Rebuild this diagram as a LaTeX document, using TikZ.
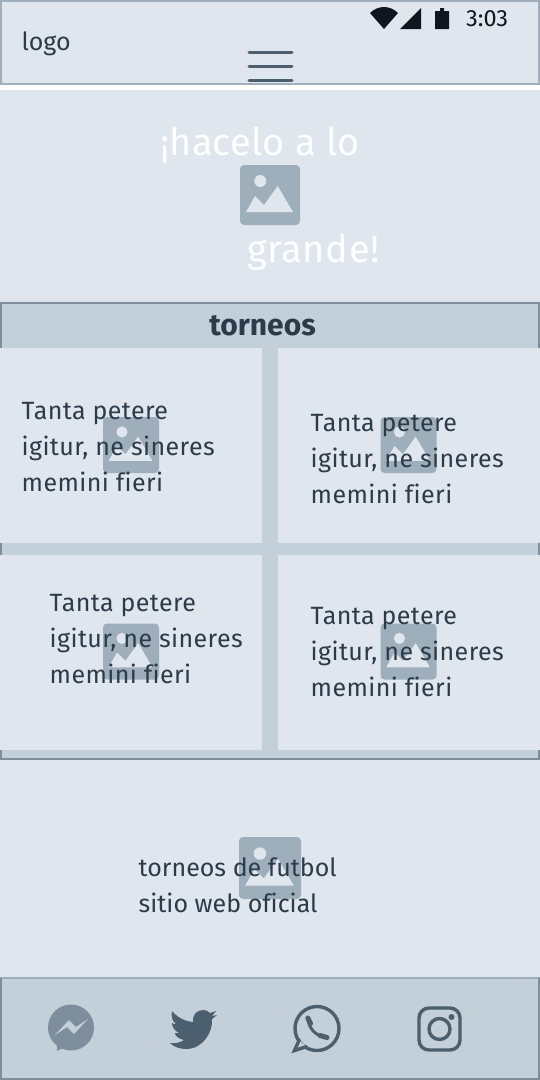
\documentclass[tikz,border=0pt]{standalone}
\usepackage{fontspec}
\setmainfont[Ligatures=NoCommon]{Fira Sans}
\definecolor{panel}{HTML}{DFE6EE}
\definecolor{band}{HTML}{C3CFD9}
\definecolor{edgeA}{HTML}{A0AFBE}
\definecolor{edgeB}{HTML}{7E8E9D}
\definecolor{ink}{HTML}{2C3B4A}
\definecolor{slate}{HTML}{4C5F6F}
\definecolor{ph}{HTML}{9FAEBB}
\definecolor{night}{HTML}{0F161E}
\tikzset{
  x=1pt,y=-1pt,
  body/.style={font=\fontsize{25}{36}\selectfont,text=ink,align=left,anchor=north west,inner sep=0pt},
  cellbody/.style={body,font=\fontsize{25}{36}\selectfont\addfontfeature{LetterSpace=1.6}},
  herotext/.style={font=\fontsize{38}{38}\selectfont,text=white,anchor=base west,inner sep=0pt},
  burger/.style={draw=slate,line width=3pt,line cap=round},
  phframe/.style={fill=ph,rounded corners=4pt},
  iconline/.style={draw=slate,line width=3.4pt},
  phonepart/.style={draw=slate,line width=5pt,line cap=round},
}
\newcommand{\imgph}[4]{% name, left, top, size
  \begin{scope}[shift={(#2,#3)},x=#4/60*1pt,y=-#4/60*1pt]
    \path[phframe] (0,0) rectangle (60,60);
    \fill[panel] (20.3,16) circle[radius=6];
    \fill[panel] (6,47) -- (15,31) -- (24,40) -- (37.7,21) -- (53,47) -- cycle;
  \end{scope}
  \coordinate (#1) at (#2,#3);
}
\begin{document}
\begin{tikzpicture}
\useasboundingbox (0,0) rectangle (540,1080);
\fill[white] (0,0) rectangle (540,1080);
% header
\fill[panel] (0,0) rectangle (540,85);
\draw[edgeA,line width=2pt] (1,1) rectangle (539,84);
\node[font=\fontsize{25}{25}\selectfont,text=ink,anchor=base west,inner sep=0pt] (logo) at (21.5,50) {logo};
\draw[burger] (249,52) -- (292,52);
\draw[burger] (249,66) -- (292,66);
\draw[burger] (249,80) -- (292,80);
\fill[night] (370,13) .. controls (378,5) and (390,5) .. (398,13) -- (384,29) -- cycle;
\fill[night] (400,29) -- (421,8) -- (421,29) -- cycle;
\fill[night] (435,11) -- (440,11) -- (440,8) -- (444,8) -- (444,11) -- (449,11) -- (449,29) -- (435,29) -- cycle;
\node[font=\fontsize{23.5}{23.5}\selectfont,text=night,anchor=base west,inner sep=0pt] (clock) at (466,26) {3:03};
% hero
\fill[panel] (0,90) rectangle (540,298);
\fill[panel!92!band] (0,298) rectangle (540,302);
\imgph{heroimg}{240}{165}{60}
\node[herotext,font=\fontsize{38}{38}\selectfont\addfontfeature{LetterSpace=0.6}] (heroa) at (160,155) {¡hacelo a lo};
\node[herotext,font=\fontsize{38}{38}\selectfont\addfontfeature{LetterSpace=1.8}] (herob) at (247,262) {grande!};
% torneos section
\fill[band] (0,302) rectangle (540,760);
\draw[edgeB,line width=2pt] (0,303) -- (540,303);
\draw[edgeB,line width=2pt] (0,759) -- (540,759);
\draw[edgeB,line width=2pt] (1,303) -- (1,348) (539,303) -- (539,348);
\draw[edgeB,line width=2pt] (1,543) -- (1,555) (539,543) -- (539,555);
\draw[edgeB,line width=2pt] (1,750) -- (1,760) (539,750) -- (539,760);
\node[font=\bfseries\fontsize{30}{30}\selectfont,text=ink,inner sep=0pt,anchor=base] (ttl) at (262.5,335) {torneos};
\fill[panel] (0,348) rectangle (262,543);
\fill[panel] (278,348) rectangle (540,543);
\fill[panel] (0,555) rectangle (262,750);
\fill[panel] (278,555) rectangle (540,750);
\imgph{ia}{103}{417}{56}
\imgph{ib}{380.5}{417}{56}
\imgph{ic}{103}{623.5}{56}
\imgph{id}{380.5}{623.5}{56}
\node[cellbody] (ta) at (21.5,402) {Tanta petere\\igitur, ne sineres\\memini fieri};
\node[cellbody] (tb) at (310.5,414) {Tanta petere\\igitur, ne sineres\\memini fieri};
\node[cellbody] (tc) at (49.5,594) {Tanta petere\\igitur, ne sineres\\memini fieri};
\node[cellbody] (td) at (310.5,607) {Tanta petere\\igitur, ne sineres\\memini fieri};
% lower panel
\fill[panel] (0,760) rectangle (540,977);
\imgph{ie}{239}{837}{62}
\node[body] (te) at (138.5,858) {torneos de futbol\\sitio web oficial};
% footer
\fill[band] (0,977) rectangle (540,1080);
\draw[edgeA,line width=2pt] (0,978) -- (540,978);
\draw[edgeB,line width=2pt] (0,1079) -- (540,1079);
\draw[edgeB,line width=2pt] (1,978) -- (1,1080) (539,978) -- (539,1080);
% messenger
\fill[edgeB] (71,1027.5) circle[radius=23];
\fill[edgeB] (57,1040) -- (57,1051) -- (70,1044) -- cycle;
\fill[band] (55,1035) -- (69,1020) -- (76,1027) -- (88,1019) -- (74,1034) -- (67,1027) -- cycle;
% twitter
\fill[slate] (170,1043) .. controls (176,1044) and (181,1042) .. (184,1040)
  .. controls (179,1039) and (175,1036) .. (175,1033)
  .. controls (176,1033) and (178,1033) .. (179,1033)
  .. controls (175,1031) and (172,1027) .. (172,1023)
  .. controls (173,1024) and (175,1024) .. (176,1024)
  .. controls (172,1021) and (171,1016) .. (172,1011)
  .. controls (176,1016) and (183,1021) .. (193,1022)
  .. controls (192,1015) and (197,1010) .. (203,1010)
  .. controls (206,1010) and (208,1011) .. (210,1013)
  -- (216,1011) -- (212,1016) -- (217,1015) -- (212,1019)
  .. controls (213,1032) and (203,1049) .. (186,1049)
  .. controls (180,1049) and (174,1047) .. (170,1043) -- cycle;
% whatsapp
\draw[iconline] (317,1028.5) circle[radius=22];
\path[fill=band] (299,1040) -- (294,1051) -- (307.5,1047.5) -- cycle;
\draw[iconline,miter limit=8] (299.6,1039) -- (294.5,1050.5) -- (307,1046.5);
\draw[slate,line width=3pt] (308.5,1021) .. controls (309,1028) and (316,1036) .. (324,1036.5);
\draw[phonepart] (307.8,1018) -- (310.5,1023.5);
\draw[phonepart] (320,1035.5) -- (327,1037.5);
% instagram
\draw[iconline,rounded corners=10pt] (419,1008) rectangle (460,1050);
\draw[iconline] (439.5,1029) circle[radius=10.5];
\fill[slate] (451.5,1017) circle[radius=3];
\end{tikzpicture}
\end{document}
